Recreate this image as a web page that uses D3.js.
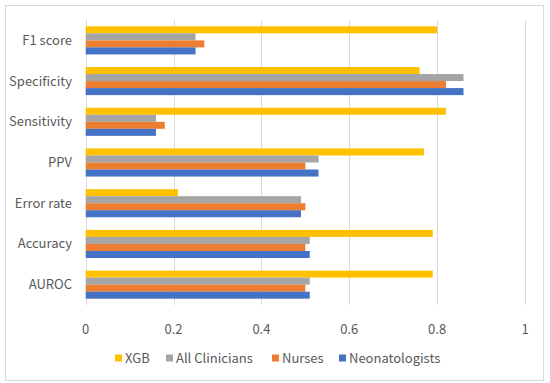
<!DOCTYPE html>
<html>
<head>
<meta charset="utf-8">
<script src="https://cdn.jsdelivr.net/npm/d3@7/dist/d3.min.js"></script>
<style>
  body { margin: 0; background: #fff; }
  text { font-family: "Noto Sans CJK KR", "Noto Sans", sans-serif; fill: #595959; }
</style>
</head>
<body>
<svg id="chart"></svg>
<script>
const categories = ['F1 score', 'Specificity', 'Sensitivity', 'PPV', 'Error rate', 'Accuracy', 'AUROC'];
const seriesNames = ['XGB', 'All Clinicians', 'Nurses', 'Neonatologists'];
const xgb = [0.80, 0.76, 0.82, 0.77, 0.21, 0.79, 0.79];
const allClinicians = [0.25, 0.86, 0.16, 0.53, 0.49, 0.51, 0.51];
const nurses = [0.27, 0.82, 0.18, 0.50, 0.50, 0.50, 0.50];
const neonatologists = [0.25, 0.86, 0.16, 0.53, 0.49, 0.51, 0.51];
const xTicks = [0, 0.2, 0.4, 0.6, 0.8, 1];
const colors = ['#FFC000', '#A5A5A5', '#ED7D31', '#4472C4'];

const width = 550, height = 383;
const margin = { top: 20, right: 25, bottom: 78, left: 85.7 };
const seriesValues = [xgb, allClinicians, nurses, neonatologists];

const svg = d3.select('#chart')
  .attr('width', width)
  .attr('height', height);

// chart border
svg.append('rect')
  .attr('x', 5.5).attr('y', 5.5)
  .attr('width', 538).attr('height', 375)
  .attr('fill', '#fff')
  .attr('stroke', '#d9d9d9');

const x = d3.scaleLinear()
  .domain([0, 1])
  .range([margin.left, width - margin.right]);

const y = d3.scaleBand()
  .domain(categories)
  .range([margin.top, height - margin.bottom])
  .paddingInner(0.31)
  .paddingOuter(0.155);

const ySeries = d3.scaleBand()
  .domain(seriesNames)
  .range([0, y.bandwidth()]);

// gridlines
svg.append('g')
  .selectAll('line')
  .data(xTicks)
  .enter()
  .append('line')
  .attr('x1', d => Math.round(x(d)) + 0.5)
  .attr('x2', d => Math.round(x(d)) + 0.5)
  .attr('y1', margin.top)
  .attr('y2', height - margin.bottom)
  .attr('stroke', '#d9d9d9');

// bars
const groups = svg.append('g')
  .selectAll('g')
  .data(categories)
  .enter()
  .append('g')
  .attr('transform', c => `translate(0, ${y(c)})`);

groups.selectAll('rect')
  .data((c, i) => seriesNames.map((s, j) => ({ s, j, v: seriesValues[j][i] })))
  .enter()
  .append('rect')
  .attr('x', x(0))
  .attr('y', d => ySeries(d.s))
  .attr('width', d => x(d.v) - x(0))
  .attr('height', ySeries.bandwidth())
  .attr('fill', d => colors[d.j]);

// category labels
svg.append('g')
  .selectAll('text')
  .data(categories)
  .enter()
  .append('text')
  .attr('x', 72)
  .attr('y', c => y(c) + y.bandwidth() / 2)
  .attr('dy', '0.35em')
  .attr('text-anchor', 'end')
  .style('font-size', '13px')
  .text(c => c);

// x tick labels
svg.append('g')
  .selectAll('text')
  .data(xTicks)
  .enter()
  .append('text')
  .attr('x', d => x(d))
  .attr('y', 329)
  .attr('dy', '0.35em')
  .attr('text-anchor', 'middle')
  .style('font-size', '13px')
  .text(d => d3.format('~g')(d));

// legend
const legendX = [115, 166, 272, 339];
const legend = svg.append('g');
legend.selectAll('g')
  .data(seriesNames)
  .enter()
  .append('g')
  .attr('transform', (d, i) => `translate(${legendX[i]}, 358)`)
  .each(function (d, i) {
    const g = d3.select(this);
    g.append('rect')
      .attr('x', 0).attr('y', -3.5)
      .attr('width', 7).attr('height', 7)
      .attr('fill', colors[i]);
    g.append('text')
      .attr('x', 10)
      .attr('dy', '0.35em')
      .style('font-size', '13px')
      .text(d);
  });
</script>
</body>
</html>
